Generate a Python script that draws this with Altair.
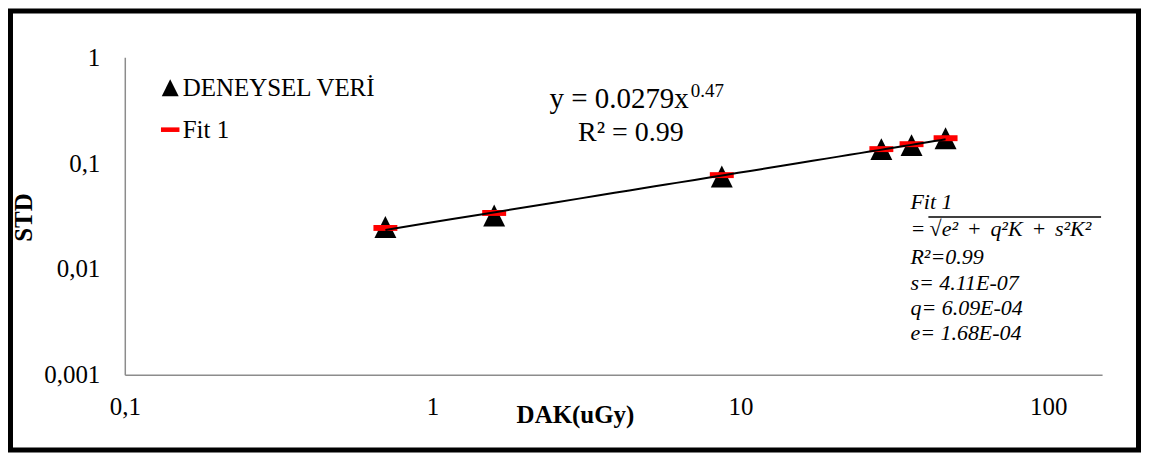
import altair as alt
import pandas as pd

# ---- data ----
dak_tri = [0.7025, 1.585, 8.70, 28.7, 35.97, 46.4]
std_tri = [0.0249, 0.0320, 0.0746, 0.1356, 0.1479, 0.172]
dak_fit = [0.7025, 1.585, 8.70, 28.7, 35.97, 46.4]
std_fit = [0.0244, 0.0338, 0.0770, 0.1356, 0.151, 0.172]
series_names = ["DENEYSEL VERİ", "Fit 1"]
x_ticks = [0.1, 1, 10, 100]
y_ticks = [0.001, 0.01, 0.1, 1]

eq_main = "y = 0.0279x"
eq_sup = "0.47"
eq_r2 = "R² = 0.99"
fit_lines = [
    "Fit 1",
    "=\u2009\u221Ae²\u2009\u2009+\u2009\u2009q²K\u2009\u2009+\u2009\u2009s²K²",
    "R²=0.99",
    "s= 4.11E-07",
    "q= 6.09E-04",
    "e= 1.68E-04",
]
fit_line_y = [152, 179, 207, 233, 258, 283]

FONT = "'Liberation Serif', 'Times New Roman', serif"
TRI = "M0,-1L1,1L-1,1Z"
DASH = "M-1.09,-0.27L1.09,-0.27L1.09,0.27L-1.09,0.27Z"

df = pd.DataFrame({
    "dak": dak_tri + dak_fit,
    "std": std_tri + std_fit,
    "series": [series_names[0]] * len(dak_tri) + [series_names[1]] * len(dak_fit),
})
df_tri = pd.DataFrame({"dak": dak_tri, "std": std_tri})

xscale = alt.Scale(type="log", domain=[0.1, 149.6], nice=False)
yscale = alt.Scale(type="log", domain=[0.001, 1], nice=False)

xaxis = alt.Axis(
    values=x_ticks, labelExpr="replace(toString(datum.value), '.', ',')",
    grid=False, ticks=False, tickSize=0, domainColor="#8c8c8c", domainWidth=1.5,
    labelFont=FONT, labelFontSize=25, labelColor="black", labelPadding=40,
    labelBaseline="alphabetic", labelFlush=False, labelOverlap=False,
    title="DAK(uGy)", titleFont=FONT, titleFontSize=25, titleFontWeight="bold",
    titleColor="black", titleX=451, titleY=48, titleBaseline="alphabetic",
    titleAlign="center",
)
yaxis = alt.Axis(
    values=y_ticks, labelExpr="replace(toString(datum.value), '.', ',')",
    grid=False, ticks=False, tickSize=0, domainColor="#8c8c8c", domainWidth=1.5,
    labelFont=FONT, labelFontSize=25, labelColor="black", labelPadding=25,
    labelFlush=False, labelOverlap=False,
    title="STD", titleFont=FONT, titleFontSize=25, titleFontWeight="bold",
    titleColor="black", titleX=-101, titleY=160, titleAngle=270,
    titleBaseline="middle", titleAlign="center",
)

legend = alt.Legend(title=None, orient="none", legendX=33, legendY=18,
                    labelFont=FONT, labelFontSize=25, labelColor="black", labelLimit=400)

points = alt.Chart(df).mark_point(filled=True, opacity=1, strokeWidth=0, size=484).encode(
    x=alt.X("dak:Q", scale=xscale, axis=xaxis),
    y=alt.Y("std:Q", scale=yscale, axis=yaxis),
    shape=alt.Shape("series:N", scale=alt.Scale(domain=series_names, range=[TRI, DASH]), legend=legend),
    color=alt.Color("series:N", scale=alt.Scale(domain=series_names, range=["#000000", "#ff0000"]), legend=legend),
)

trend = alt.Chart(df_tri).transform_regression("dak", "std", method="pow").mark_line(
    color="black", strokeWidth=2
).encode(x="dak:Q", y="std:Q")

one = pd.DataFrame({"a": [0]})

eq1 = alt.Chart(one).mark_text(font=FONT, fontSize=29, align="right", baseline="alphabetic", color="black").encode(
    x=alt.value(565), y=alt.value(51), text=alt.value(eq_main))
eq2 = alt.Chart(one).mark_text(font=FONT, fontSize=19, align="left", baseline="alphabetic", color="black").encode(
    x=alt.value(567), y=alt.value(40), text=alt.value(eq_sup))
eq3 = alt.Chart(one).mark_text(font=FONT, fontSize=28, align="center", baseline="alphabetic", color="black").encode(
    x=alt.value(507), y=alt.value(84), text=alt.value(eq_r2))

fit_df = pd.DataFrame({"t": fit_lines, "py": fit_line_y})
fit_txt = alt.Chart(fit_df).mark_text(font=FONT, fontSize=22, fontStyle="italic", align="left",
                                      baseline="alphabetic", color="black").encode(
    x=alt.value(787), y=alt.Y("py:Q", scale=None, axis=None), text="t:N")

overline = alt.Chart(one).mark_rule(color="black", strokeWidth=1.5).encode(
    x=alt.value(805), x2=alt.value(978), y=alt.value(160))

frame = alt.Chart(one).mark_rect(fill="transparent", stroke="black", strokeWidth=5).encode(
    x=alt.value(-114.5), x2=alt.value(1015.5), y=alt.value(-46.5), y2=alt.value(393.5))

chart = alt.layer(frame, points, trend, eq1, eq2, eq3, fit_txt, overline).properties(
    width=979, height=318,
    padding={"left": 117, "top": 49, "right": 40, "bottom": 78},
    autosize=alt.AutoSizeParams(type="none"),
    background="white",
).configure(font=FONT).configure_view(stroke=None).configure_legend(
    labelFont=FONT, labelFontSize=25, labelColor="black", labelLimit=400,
    symbolSize=289, symbolStrokeWidth=0, labelOffset=0, rowPadding=16,
)

chart.save("out.html", embed_options={"renderer": "svg", "actions": False})
